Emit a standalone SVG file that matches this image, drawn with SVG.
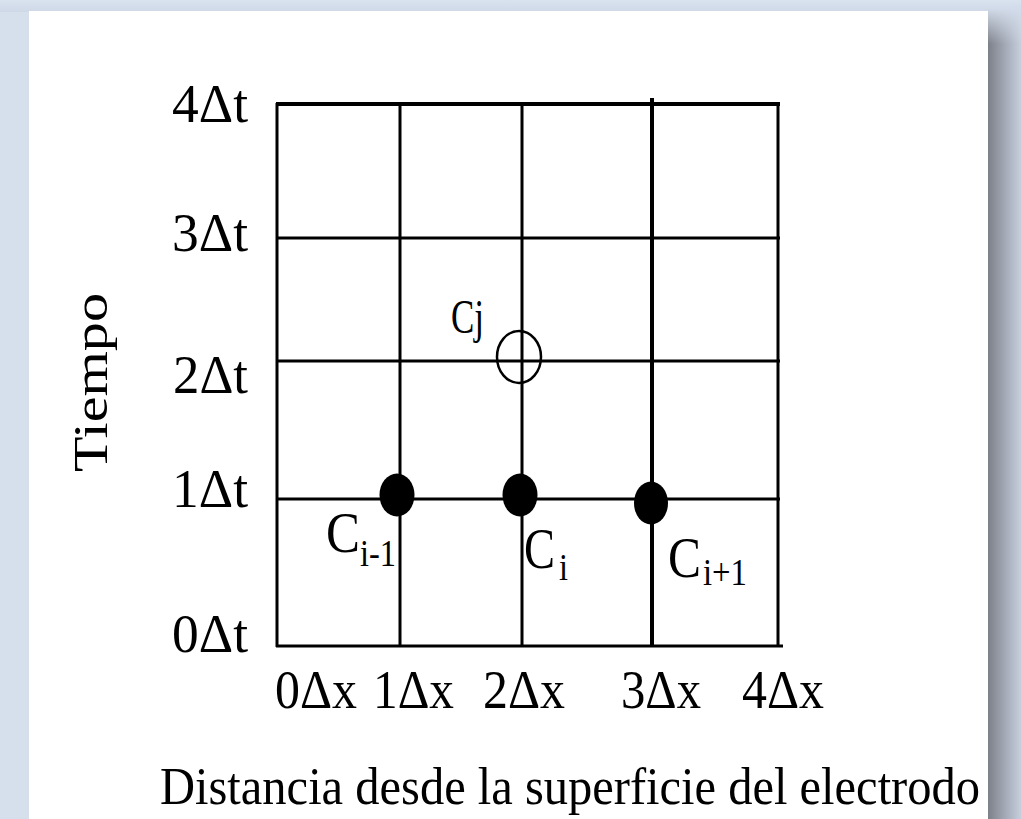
<svg xmlns="http://www.w3.org/2000/svg" width="1021" height="819" viewBox="0 0 1021 819">
  <defs>
    <linearGradient id="shadowH" x1="0" y1="0" x2="1" y2="0">
      <stop offset="0" stop-color="#7c8089"/>
      <stop offset="0.5" stop-color="#a2a8b4"/>
      <stop offset="1" stop-color="#c7cfdd"/>
    </linearGradient>
    <linearGradient id="shadowTop" x1="0" y1="0" x2="0" y2="1">
      <stop offset="0" stop-color="#d3dcea" stop-opacity="1"/>
      <stop offset="1" stop-color="#d3dcea" stop-opacity="0"/>
    </linearGradient>
    <linearGradient id="bgTop" x1="0" y1="0" x2="0" y2="1">
      <stop offset="0" stop-color="#d9e2ef"/>
      <stop offset="1" stop-color="#cfd8e6"/>
    </linearGradient>
  </defs>
  <style>
    .grid line { stroke: #000; stroke-width: 3; stroke-linecap: butt; }
    .lbl { font-family: "Liberation Serif", "Times New Roman", serif; fill: #000; }
    .axis { font-size: 54px; }
    .sub { font-size: 38px; }
    .big { font-size: 56px; }
  </style>

  <!-- background and page -->
  <rect x="0" y="0" width="1021" height="819" fill="#d6e0ed"/>
  <rect x="0" y="0" width="1021" height="12" fill="url(#bgTop)"/>
  <rect x="988" y="8" width="33" height="811" fill="url(#shadowH)"/>
  <rect x="988" y="8" width="33" height="36" fill="url(#shadowTop)"/>
  <rect x="29" y="11" width="959" height="808" fill="#ffffff"/>

  <!-- grid -->
  <g id="grid" class="grid">
    <line x1="276" y1="104" x2="780" y2="104" style="stroke-width:4"/>
    <line x1="276" y1="238" x2="780" y2="238"/>
    <line x1="276" y1="361" x2="780" y2="361"/>
    <line x1="276" y1="499" x2="780" y2="499"/>
    <line x1="276" y1="646" x2="783" y2="646"/>
    <line x1="277" y1="103" x2="277" y2="647"/>
    <line x1="400" y1="104" x2="400" y2="646"/>
    <line x1="522" y1="104" x2="522" y2="646"/>
    <line x1="652" y1="98" x2="652" y2="646" style="stroke-width:4"/>
    <line x1="778" y1="103" x2="778" y2="646"/>
  </g>

  <!-- y axis labels -->
  <g id="y-labels" class="lbl axis">
    <text x="172" y="122" textLength="76" lengthAdjust="spacingAndGlyphs">4Δt</text>
    <text x="172" y="251" textLength="76" lengthAdjust="spacingAndGlyphs">3Δt</text>
    <text x="173" y="393" textLength="75" lengthAdjust="spacingAndGlyphs">2Δt</text>
    <text x="172" y="507" textLength="76" lengthAdjust="spacingAndGlyphs">1Δt</text>
    <text x="172" y="652" textLength="76" lengthAdjust="spacingAndGlyphs">0Δt</text>
  </g>

  <!-- x axis labels -->
  <g id="x-labels" class="lbl axis">
    <text x="275" y="708" textLength="82" lengthAdjust="spacingAndGlyphs">0Δx</text>
    <text x="373" y="708" textLength="81" lengthAdjust="spacingAndGlyphs">1Δx</text>
    <text x="483" y="708" textLength="82" lengthAdjust="spacingAndGlyphs">2Δx</text>
    <text x="621" y="708" textLength="80" lengthAdjust="spacingAndGlyphs">3Δx</text>
    <text x="742" y="708" textLength="82" lengthAdjust="spacingAndGlyphs">4Δx</text>
  </g>

  <!-- axis titles -->
  <g id="y-title" class="lbl">
    <text transform="translate(107,472) rotate(-90)" x="0" y="0" font-size="48" textLength="179" lengthAdjust="spacingAndGlyphs">Tiempo</text>
  </g>
  <g id="x-title" class="lbl">
    <text x="160" y="804" font-size="53" textLength="820" lengthAdjust="spacingAndGlyphs">Distancia desde la superficie del electrodo</text>
  </g>

  <!-- nodes -->
  <g id="node-cj">
    <ellipse cx="519" cy="357" rx="22" ry="26" fill="none" stroke="#000" stroke-width="2.5"/>
    <text class="lbl" x="451" y="333" font-size="48" textLength="33" lengthAdjust="spacingAndGlyphs">Cj</text>
  </g>
  <g id="node-ci-1">
    <ellipse cx="397" cy="495" rx="17.5" ry="21.5" fill="#000"/>
    <text class="lbl big" x="326" y="552" textLength="34" lengthAdjust="spacingAndGlyphs">C</text>
    <text class="lbl sub" x="360" y="566" textLength="36" lengthAdjust="spacingAndGlyphs">i-1</text>
  </g>
  <g id="node-ci">
    <ellipse cx="520" cy="495" rx="17.5" ry="21.5" fill="#000"/>
    <text class="lbl big" x="524" y="568" textLength="31" lengthAdjust="spacingAndGlyphs">C</text>
    <text class="lbl sub" x="559" y="580" textLength="9" lengthAdjust="spacingAndGlyphs">i</text>
  </g>
  <g id="node-ci+1">
    <ellipse cx="651" cy="503" rx="17" ry="21.5" fill="#000"/>
    <text class="lbl big" x="668" y="577" textLength="33" lengthAdjust="spacingAndGlyphs">C</text>
    <text class="lbl sub" x="703" y="585" textLength="44" lengthAdjust="spacingAndGlyphs">i+1</text>
  </g>

  <g id="connectors"></g>
</svg>
